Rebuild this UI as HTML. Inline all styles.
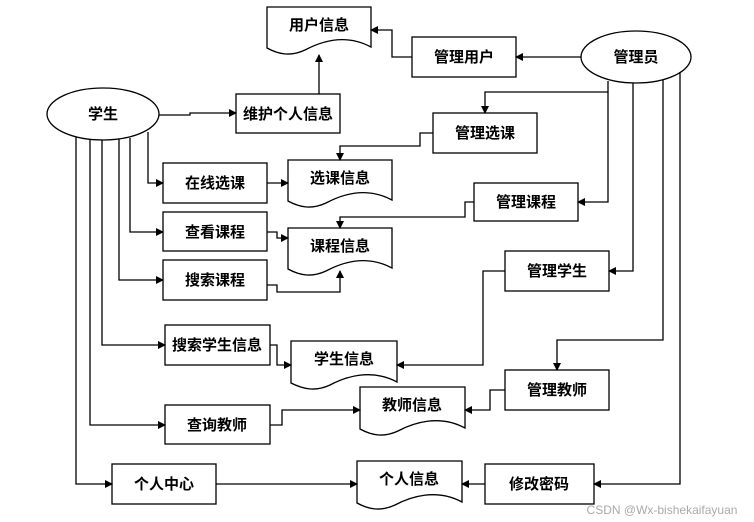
<!DOCTYPE html>
<html><head><meta charset="utf-8"><style>
html,body{margin:0;padding:0;background:#fff;}
svg{display:block}
text{font-family:"Liberation Sans","Noto Sans CJK SC",sans-serif;font-size:15px;font-weight:bold;fill:#000;text-anchor:middle;}
.l{fill:none;stroke:#000;stroke-width:1.3}
.b{fill:#fff;stroke:#000;stroke-width:1.3}
</style></head><body>
<svg width="754" height="522" viewBox="0 0 754 522" xmlns="http://www.w3.org/2000/svg">
<defs>
<marker id="a" markerWidth="8" markerHeight="8" refX="7" refY="4" orient="auto" markerUnits="userSpaceOnUse">
<path d="M0,0 L8,4 L0,8 z" fill="#000"/></marker>
</defs>

<ellipse class="b" cx="103" cy="114" rx="56" ry="26"/>
<text x="103" y="119">学生</text>
<ellipse class="b" cx="636" cy="57" rx="55" ry="26"/>
<text x="636" y="62">管理员</text>

<rect class="b" x="236" y="94" width="104" height="39"/><text x="288" y="119">维护个人信息</text>
<rect class="b" x="412" y="37" width="104" height="40"/><text x="464" y="62">管理用户</text>
<rect class="b" x="433" y="113" width="104" height="40"/><text x="485" y="138">管理选课</text>
<rect class="b" x="163" y="163" width="104" height="40"/><text x="215" y="188">在线选课</text>
<rect class="b" x="474" y="183" width="104" height="38"/><text x="526" y="207">管理课程</text>
<rect class="b" x="163" y="212" width="104" height="39"/><text x="215" y="237">查看课程</text>
<rect class="b" x="163" y="260" width="104" height="40"/><text x="215" y="285">搜索课程</text>
<rect class="b" x="505" y="251" width="104" height="40"/><text x="557" y="276">管理学生</text>
<rect class="b" x="165" y="325" width="105" height="40"/><text x="217" y="350">搜索学生信息</text>
<rect class="b" x="505" y="370" width="104" height="40"/><text x="557" y="395">管理教师</text>
<rect class="b" x="165" y="405" width="105" height="39"/><text x="217" y="430">查询教师</text>
<rect class="b" x="112" y="464" width="104" height="40"/><text x="164" y="489">个人中心</text>
<rect class="b" x="485" y="464" width="109" height="40"/><text x="539" y="489">修改密码</text>

<path class="b" d="M267,7 H371 V47 C345,33 320,42 305,50 C290,57 278,54 267,48 Z"/><text x="319" y="30">用户信息</text>
<path class="b" d="M288,160 H392 V200 C366,186 341,195 326,203 C311,210 299,207 288,201 Z"/><text x="340" y="183">选课信息</text>
<path class="b" d="M288,228 H392 V268 C366,254 341,263 326,271 C311,278 299,275 288,269 Z"/><text x="340" y="251">课程信息</text>
<path class="b" d="M291,341 H397 V382 C371,368 345,377 330,385 C315,392 303,389 291,383 Z"/><text x="344" y="364">学生信息</text>
<path class="b" d="M360,387 H465 V428 C439,414 413,423 398,431 C383,438 371,435 360,429 Z"/><text x="412" y="410">教师信息</text>
<path class="b" d="M357,461 H462 V502 C436,488 410,497 395,505 C380,512 368,509 357,503 Z"/><text x="409" y="484">个人信息</text>

<path class="l" d="M581,57 H516" marker-end="url(#a)"/>
<path class="l" d="M412,57 H392 V30 H371" marker-end="url(#a)"/>
<path class="l" d="M319,94 V55" marker-end="url(#a)"/>
<path class="l" d="M159,115 H190 V113 H236" marker-end="url(#a)"/>
<path class="l" d="M608,81 V92 H485 V113" marker-end="url(#a)"/>
<path class="l" d="M608,92 V202 H578" marker-end="url(#a)"/>
<path class="l" d="M633,83 V271 H609" marker-end="url(#a)"/>
<path class="l" d="M663,80 V340 H557 V370" marker-end="url(#a)"/>
<path class="l" d="M680,72 V484 H594" marker-end="url(#a)"/>
<path class="l" d="M433,133 H420 V146 H340 V160" marker-end="url(#a)"/>
<path class="l" d="M474,202 H465 V217 H340 V228" marker-end="url(#a)"/>
<path class="l" d="M148,132 V183 H163" marker-end="url(#a)"/>
<path class="l" d="M130,138 V232 H163" marker-end="url(#a)"/>
<path class="l" d="M119,139 V280 H163" marker-end="url(#a)"/>
<path class="l" d="M102,140 V345 H165" marker-end="url(#a)"/>
<path class="l" d="M90,139 V425 H165" marker-end="url(#a)"/>
<path class="l" d="M76,137 V484 H112" marker-end="url(#a)"/>
<path class="l" d="M267,183 H288" marker-end="url(#a)"/>
<path class="l" d="M267,232 H277 V238 H288" marker-end="url(#a)"/>
<path class="l" d="M267,285 H277 V292 H340 V271" marker-end="url(#a)"/>
<path class="l" d="M270,345 H277 V365 H291" marker-end="url(#a)"/>
<path class="l" d="M505,271 H483 V365 H397" marker-end="url(#a)"/>
<path class="l" d="M505,390 H490 V410 H465" marker-end="url(#a)"/>
<path class="l" d="M270,425 H282 V410 H360" marker-end="url(#a)"/>
<path class="l" d="M216,484 H357" marker-end="url(#a)"/>
<path class="l" d="M485,484 H462" marker-end="url(#a)"/>

<text x="662" y="514" style="font-size:12px;font-weight:normal;fill:#aaa">CSDN @Wx-bishekaifayuan</text>
</svg>
</body></html>
